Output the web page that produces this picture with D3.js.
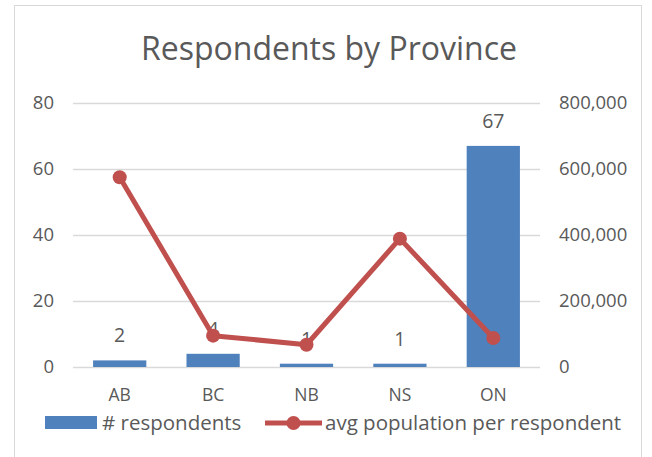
<!DOCTYPE html>
<html>
<head>
<meta charset="utf-8">
<script src="https://cdn.jsdelivr.net/npm/d3@7"></script>
<style>
  html, body { margin: 0; padding: 0; background: #fff; }
  svg { display: block; }
  text { font-family: "Open Sans", "Noto Sans", sans-serif; fill: #595959; }
</style>
</head>
<body>
<svg id="chart" width="652" height="457"></svg>
<script>
// Respondents per province and average population each respondent represents
const provinces = ["AB", "BC", "NB", "NS", "ON"];
const respondents = [2, 4, 1, 1, 67];
const avgPopulation = [575000, 95000, 67500, 389000, 88000];
const leftTicks = [0, 20, 40, 60, 80];
const rightTicks = [0, 200000, 400000, 600000, 800000];

const svg = d3.select("#chart");
const W = 652, H = 457;
const plot = { left: 73, right: 540, top: 103, bottom: 367 };

// chart frame
svg.append("rect")
  .attr("x", 14.5).attr("y", 5.5)
  .attr("width", 627).attr("height", H)
  .attr("fill", "#fff").attr("stroke", "#d9d9d9");

// title
svg.append("text")
  .attr("x", 329).attr("y", 60)
  .attr("text-anchor", "middle")
  .style("font-size", "32px")
  .text("Respondents by Province");

const x = d3.scaleBand().domain(provinces).range([plot.left, plot.right]);
const yL = d3.scaleLinear().domain([0, 80]).range([plot.bottom, plot.top]);
const yR = d3.scaleLinear().domain([0, 800000]).range([plot.bottom, plot.top]);
const barW = x.bandwidth() * 0.57;

// gridlines
svg.append("g").selectAll("line").data(leftTicks).join("line")
  .attr("x1", plot.left).attr("x2", plot.right)
  .attr("y1", d => Math.round(yL(d)) + 0.5).attr("y2", d => Math.round(yL(d)) + 0.5)
  .attr("stroke", "#d9d9d9").attr("stroke-width", 1.3);

// left axis
const axL = svg.append("g").attr("transform", `translate(${plot.left - 19},0)`)
  .call(d3.axisLeft(yL).tickValues(leftTicks).tickSize(0).tickPadding(0));
axL.select(".domain").remove();
axL.selectAll("text").style("font-size", "18.5px").attr("fill", "#595959");

// right axis
const axR = svg.append("g").attr("transform", `translate(${plot.right + 19},0)`)
  .call(d3.axisRight(yR).tickValues(rightTicks).tickSize(0).tickPadding(0)
    .tickFormat(d3.format(",")));
axR.select(".domain").remove();
axR.selectAll("text").style("font-size", "18.5px").attr("fill", "#595959");

// category axis
const axB = svg.append("g").attr("transform", `translate(0,${plot.bottom + 22})`)
  .call(d3.axisBottom(x).tickSize(0).tickPadding(0));
axB.select(".domain").remove();
axB.selectAll("text").style("font-size", "17.5px").attr("fill", "#595959");

// bars
svg.append("g").selectAll("rect").data(provinces).join("rect")
  .attr("x", (d) => x(d) + (x.bandwidth() - barW) / 2)
  .attr("width", barW)
  .attr("y", (d, i) => yL(respondents[i]))
  .attr("height", (d, i) => yL(0) - yL(respondents[i]))
  .attr("fill", "#4f81bd");

// bar value labels
svg.append("g").selectAll("text").data(provinces).join("text")
  .attr("x", d => x(d) + x.bandwidth() / 2)
  .attr("y", (d, i) => yL(respondents[i]) - 18)
  .attr("text-anchor", "middle")
  .style("font-size", "19.5px")
  .attr("fill", "#404040")
  .text((d, i) => respondents[i]);

// population line
const line = d3.line()
  .x((d, i) => x(provinces[i]) + x.bandwidth() / 2)
  .y(d => yR(d));
svg.append("path").datum(avgPopulation)
  .attr("d", line)
  .attr("fill", "none")
  .attr("stroke", "#c0504d")
  .attr("stroke-width", 5)
  .attr("stroke-linejoin", "round");
svg.append("g").selectAll("circle").data(avgPopulation).join("circle")
  .attr("cx", (d, i) => x(provinces[i]) + x.bandwidth() / 2)
  .attr("cy", d => yR(d))
  .attr("r", 7)
  .attr("fill", "#c0504d");

// legend
const lg = svg.append("g");
lg.append("rect").attr("x", 45).attr("y", 416).attr("width", 52).attr("height", 13)
  .attr("fill", "#4f81bd");
lg.append("text").attr("x", 102).attr("y", 430).style("font-size", "20.5px")
  .text("# respondents");
lg.append("line").attr("x1", 265).attr("x2", 322).attr("y1", 423).attr("y2", 423)
  .attr("stroke", "#c0504d").attr("stroke-width", 5);
lg.append("circle").attr("cx", 293.5).attr("cy", 423).attr("r", 7).attr("fill", "#c0504d");
lg.append("text").attr("x", 325).attr("y", 430).style("font-size", "20.5px")
  .text("avg population per respondent");
</script>
</body>
</html>
